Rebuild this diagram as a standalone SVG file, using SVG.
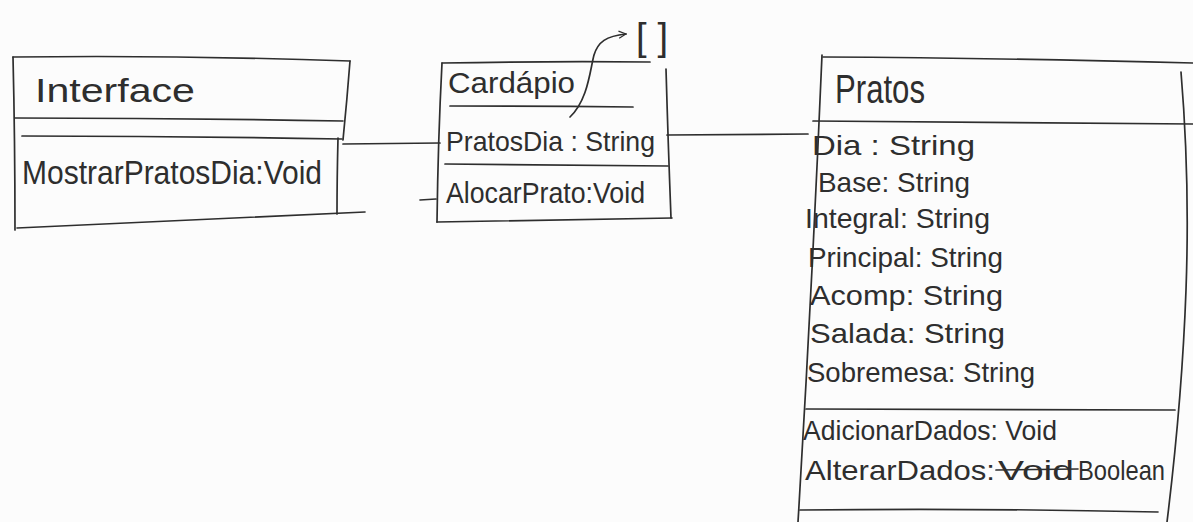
<svg xmlns="http://www.w3.org/2000/svg" width="1193" height="522" viewBox="0 0 1193 522">
  <style>
    .ink { fill: none; stroke: #2e2e2e; stroke-width: 1.7; stroke-linecap: round; stroke-linejoin: round; }
    .lbl { font-family: "Liberation Sans", "DejaVu Sans", sans-serif; font-size: 28px; fill: #2e2e2e; }
    .ttl { font-family: "Liberation Sans", "DejaVu Sans", sans-serif; font-size: 33px; fill: #2e2e2e; }
  </style>
  <defs>
    <marker id="open" viewBox="0 0 10 10" refX="9" refY="5" markerWidth="9" markerHeight="9" orient="auto" markerUnits="userSpaceOnUse">
      <path d="M1,1 L9,5 L1,9" fill="none" stroke="#2e2e2e" stroke-width="1.4"/>
    </marker>
  </defs>
  <rect width="1193" height="522" fill="#fcfcfc"/>

  <!-- associations between the classes -->
  <g id="connectors">
    <path class="ink" d="M343,144 L440,143"/>
    <path class="ink" d="M667,135 L808,134"/>
    <!-- PratosDia points to an array -->
    <path class="ink" d="M570,117 C588,100 590,70 594,55 C598,42 606,36 626,34" marker-end="url(#open)"/>
  </g>

  <!-- class Interface -->
  <g id="interface">
    <path class="ink" d="M13,57 Q180,55 350,61"/>
    <path class="ink" d="M13,57 Q15,140 15,230"/>
    <path class="ink" d="M350,61 Q347,100 343,140"/>
    <path class="ink" d="M338,138 Q337,178 337,214"/>
    <path class="ink" d="M15,118 Q180,118 343,121"/>
    <path class="ink" d="M22,136 Q180,136 342,139"/>
    <path class="ink" d="M17,228 Q200,220 365,212"/>
    <text class="ttl" x="35" y="102" textLength="160" lengthAdjust="spacingAndGlyphs">Interface</text>
    <text class="lbl" x="22" y="184" style="font-size:33px" textLength="300" lengthAdjust="spacingAndGlyphs">MostrarPratosDia:Void</text>
  </g>

  <!-- class Cardápio -->
  <g id="cardapio">
    <path class="ink" d="M442,63 Q550,61 650,62"/>
    <path class="ink" d="M442,63 Q438,140 437,222"/>
    <path class="ink" d="M666,69 Q668,140 671,218"/>
    <path class="ink" d="M437,222 Q550,220 672,218"/>
    <path class="ink" d="M450,106 Q540,106 633,107"/>
    <path class="ink" d="M445,164 Q555,165 668,166"/>
    <path class="ink" d="M420,200 L436,199"/>
    <text class="lbl" x="448" y="93" style="font-size:30px" textLength="127" lengthAdjust="spacingAndGlyphs">Cardápio</text>
    <text class="lbl" x="446" y="151" textLength="209" lengthAdjust="spacingAndGlyphs">PratosDia : String</text>
    <text class="lbl" x="446" y="203" style="font-size:30px" textLength="199" lengthAdjust="spacingAndGlyphs">AlocarPrato:Void</text>
    <text class="lbl" x="636" y="50" style="font-size:38px" textLength="32" lengthAdjust="spacing">[]</text>
  </g>

  <!-- class Pratos -->
  <g id="pratos">
    <path class="ink" d="M823,57 Q1000,58 1193,63"/>
    <path class="ink" d="M822,55 Q812,290 798,522"/>
    <path class="ink" d="M1181,72 Q1190,180 1186,290 Q1182,400 1167,522"/>
    <path class="ink" d="M813,121 Q1000,122 1193,124"/>
    <path class="ink" d="M806,409 Q990,410 1175,410"/>
    <path class="ink" d="M800,510 Q980,508 1158,512"/>
    <text class="ttl" x="835" y="103" style="font-size:40px" textLength="90" lengthAdjust="spacingAndGlyphs">Pratos</text>
    <text class="lbl" x="812" y="155" textLength="163" lengthAdjust="spacingAndGlyphs">Dia : String</text>
    <text class="lbl" x="818" y="192" textLength="152" lengthAdjust="spacingAndGlyphs">Base: String</text>
    <text class="lbl" x="805" y="228" textLength="185" lengthAdjust="spacingAndGlyphs">Integral: String</text>
    <text class="lbl" x="808" y="267" textLength="195" lengthAdjust="spacingAndGlyphs">Principal: String</text>
    <text class="lbl" x="810" y="305" textLength="193" lengthAdjust="spacingAndGlyphs">Acomp: String</text>
    <text class="lbl" x="810" y="343" textLength="195" lengthAdjust="spacingAndGlyphs">Salada: String</text>
    <text class="lbl" x="807" y="382" textLength="228" lengthAdjust="spacingAndGlyphs">Sobremesa: String</text>
    <text class="lbl" x="803" y="440" textLength="254" lengthAdjust="spacingAndGlyphs">AdicionarDados: Void</text>
    <text class="lbl" x="805" y="480" textLength="190" lengthAdjust="spacingAndGlyphs">AlterarDados:</text>
    <text class="lbl" x="998" y="480" textLength="76" lengthAdjust="spacingAndGlyphs">Void</text>
    <path class="ink" d="M996,470 L1078,469"/>
    <text class="lbl" x="1078" y="480" textLength="87" lengthAdjust="spacingAndGlyphs">Boolean</text>
  </g>
</svg>
